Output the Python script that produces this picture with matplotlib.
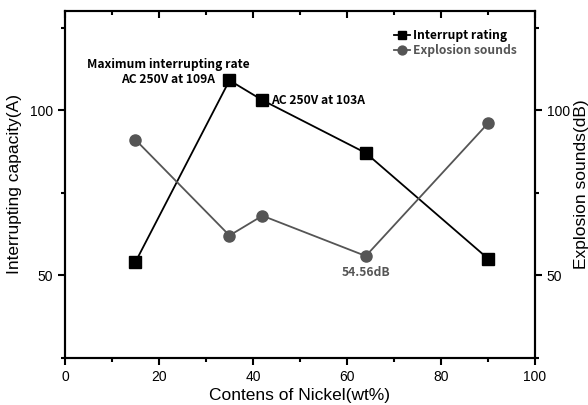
import matplotlib.pyplot as plt
from matplotlib.ticker import MultipleLocator

plt.rcParams['font.family'] = ['Liberation Sans', 'DejaVu Sans']

# data
nickel = [15, 35, 42, 64, 90]
interrupt = [54, 109, 103, 87, 55]
explosion = [91, 62, 68, 55.8, 96]

fig = plt.figure(figsize=(5.88, 4.05), dpi=100)
ax = fig.add_axes([0.1105, 0.1168, 0.7994, 0.856])
ax2 = ax.twinx()

l1, = ax.plot(nickel, interrupt, color='black', lw=1.3, marker='s', ms=8,
              label='Interrupt rating')
l2, = ax2.plot(nickel, explosion, color='#555555', lw=1.3, marker='o', ms=8,
               label='Explosion sounds')

ax.set_xlim(0, 100)
ax.set_ylim(25, 130)
ax2.set_ylim(25, 130)
for a in (ax, ax2):
    a.yaxis.set_major_locator(MultipleLocator(50))
    a.yaxis.set_minor_locator(MultipleLocator(25))
    for s in a.spines.values():
        s.set_linewidth(1.5)
ax.xaxis.set_major_locator(MultipleLocator(20))
ax.xaxis.set_minor_locator(MultipleLocator(10))

ax.tick_params(axis='both', which='major', direction='out', length=5, width=1.5,
               labelsize=10, top=True)
ax.tick_params(axis='both', which='minor', direction='out', length=3, width=1.5, top=True)
ax2.tick_params(axis='y', which='major', direction='out', length=5, width=1.5, labelsize=10)
ax2.tick_params(axis='y', which='minor', direction='out', length=3, width=1.5)
# top ticks point inward
for t in ax.xaxis.get_major_ticks() + ax.xaxis.get_minor_ticks():
    t.tick2line.set_marker(3)

ax.set_xlabel('Contens of Nickel(wt%)', fontsize=12.5, labelpad=3)
ax.set_ylabel('Interrupting capacity(A)', fontsize=12.5, labelpad=6)
ax2.set_ylabel('Explosion sounds(dB)', fontsize=12.5, labelpad=3)

bold = dict(family=['Noto Sans CJK KR', 'DejaVu Sans'], fontweight='bold', fontsize=8.7)
ax.annotate('Maximum interrupting rate\nAC 250V at 109A', (nickel[1], interrupt[1]),
            xytext=(-44, 6), textcoords='offset points', ha='center', va='center',
            multialignment='center', linespacing=1.2, **bold)
ax.annotate('AC 250V at 103A', (nickel[2], interrupt[2]), xytext=(6, 0),
            textcoords='offset points', ha='left', va='center', **bold)
ax2.annotate('54.56dB', (nickel[3], explosion[3]), xytext=(0, -12),
             textcoords='offset points', ha='center', va='center',
             color='#555555', **bold)

leg = ax.legend([l1, l2], ['Interrupt rating', 'Explosion sounds'], loc='upper right',
                bbox_to_anchor=(0.985, 0.98), frameon=False, handlelength=1.3,
                handletextpad=0.3, labelspacing=0.2, markerscale=0.8,
                prop=dict(family=['Noto Sans CJK KR', 'DejaVu Sans'], weight='bold', size=8.7))
leg.get_texts()[1].set_color('#555555')

fig.savefig('out.png', dpi=100)
